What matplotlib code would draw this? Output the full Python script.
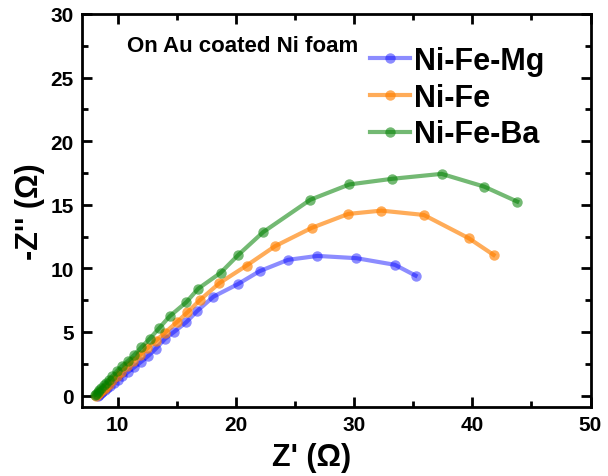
import matplotlib
matplotlib.use("Agg")
import matplotlib.pyplot as plt
from matplotlib.ticker import MultipleLocator

plt.rcParams['font.family'] = ['Liberation Sans', 'DejaVu Sans']
plt.rcParams['font.weight'] = 'bold'

# Nyquist data (Z' and -Z'' in ohm)
mg_x = [8.3, 8.4, 8.55, 8.7, 8.9, 9.1, 9.35, 9.65, 10.0, 10.4, 10.9, 11.4, 12.0, 12.6,
        13.2, 14.0, 14.8, 15.8, 16.7, 18.1, 20.2, 22.0, 24.4, 26.9, 30.2, 33.45, 35.2]
mg_y = [0.0, 0.07, 0.18, 0.29, 0.43, 0.58, 0.76, 0.97, 1.22, 1.51, 1.87, 2.23, 2.67, 3.14,
        3.67, 4.46, 5.03, 5.77, 6.63, 7.78, 8.78, 9.78, 10.67, 10.98, 10.8, 10.28, 9.43]

fe_x = [8.2, 8.3, 8.45, 8.6, 8.8, 9.0, 9.25, 9.55, 9.9, 10.3, 10.8, 11.3, 11.9, 12.5,
        13.2, 14.0, 15.0, 15.9, 17.0, 18.6, 20.9, 23.3, 26.4, 29.5, 32.3, 35.9, 39.7, 41.8]
fe_y = [0.0, 0.09, 0.22, 0.35, 0.53, 0.7, 0.92, 1.19, 1.5, 1.85, 2.29, 2.73, 3.2, 3.72,
        4.3, 4.95, 5.77, 6.55, 7.55, 8.84, 10.22, 11.74, 13.18, 14.28, 14.54, 14.2, 12.37, 11.06]

ba_x = [8.05, 8.15, 8.3, 8.45, 8.6, 8.8, 9.0, 9.25, 9.55, 9.95, 10.4, 10.9, 11.4, 12.0,
        12.7, 13.5, 14.4, 15.8, 16.8, 18.7, 20.2, 22.3, 26.3, 29.6, 33.2, 37.4, 41.0, 43.8]
ba_y = [0.05, 0.15, 0.3, 0.45, 0.6, 0.8, 1.0, 1.25, 1.55, 1.95, 2.36, 2.75, 3.2, 3.8,
        4.46, 5.3, 6.24, 7.34, 8.4, 9.65, 11.06, 12.85, 15.4, 16.6, 17.04, 17.43, 16.43, 15.25]

series = [
    ("Ni-Fe-Mg", mg_x, mg_y, "#0000ff", 0.45),
    ("Ni-Fe", fe_x, fe_y, "#ff8000", 0.65),
    ("Ni-Fe-Ba", ba_x, ba_y, "#008000", 0.55),
]

fig = plt.figure(figsize=(6.08, 4.77), dpi=100)
ax = fig.add_axes([82.3 / 608, 69 / 477, (590.5 - 82.3) / 608, (408 - 15) / 477])

for label, xs, ys, col, a in series:
    ax.plot(xs, ys, '-o', color=col, alpha=a, lw=3, ms=7.5, mew=0, label=label)

ax.set_xlim(7, 50)
ax.set_ylim(-0.9, 30)
ax.xaxis.set_major_locator(MultipleLocator(10))
ax.xaxis.set_minor_locator(MultipleLocator(5))
ax.yaxis.set_major_locator(MultipleLocator(5))
ax.yaxis.set_minor_locator(MultipleLocator(2.5))
ax.tick_params(which='both', direction='in', top=True, right=True, width=2)
ax.tick_params(which='major', length=7, labelsize=15, pad=6)
ax.tick_params(which='minor', length=4)
for s in ax.spines.values():
    s.set_linewidth(2)

ax.set_xlabel("Z' (\u03a9)", fontsize=22, fontweight='bold', labelpad=5)
ax.xaxis.set_label_coords((312 - 82.3) / (590.5 - 82.3), -0.09)
ax.xaxis.label.set_verticalalignment('top')
ax.set_ylabel("-Z'' (\u03a9)", fontsize=22, fontweight='bold', labelpad=4)

leg = ax.legend(loc='upper left', bbox_to_anchor=(370 / 608, 1 - 47 / 477),
                bbox_transform=fig.transFigure, frameon=False, fontsize=22,
                handlelength=1.3, handletextpad=0.15, labelspacing=0.22,
                borderpad=0, borderaxespad=0)

fig.text(127 / 608, 1 - 47 / 477, "On Au coated Ni foam", fontsize=16,
         fontweight='bold', va='center', ha='left')

fig.savefig("out.png", dpi=100)
